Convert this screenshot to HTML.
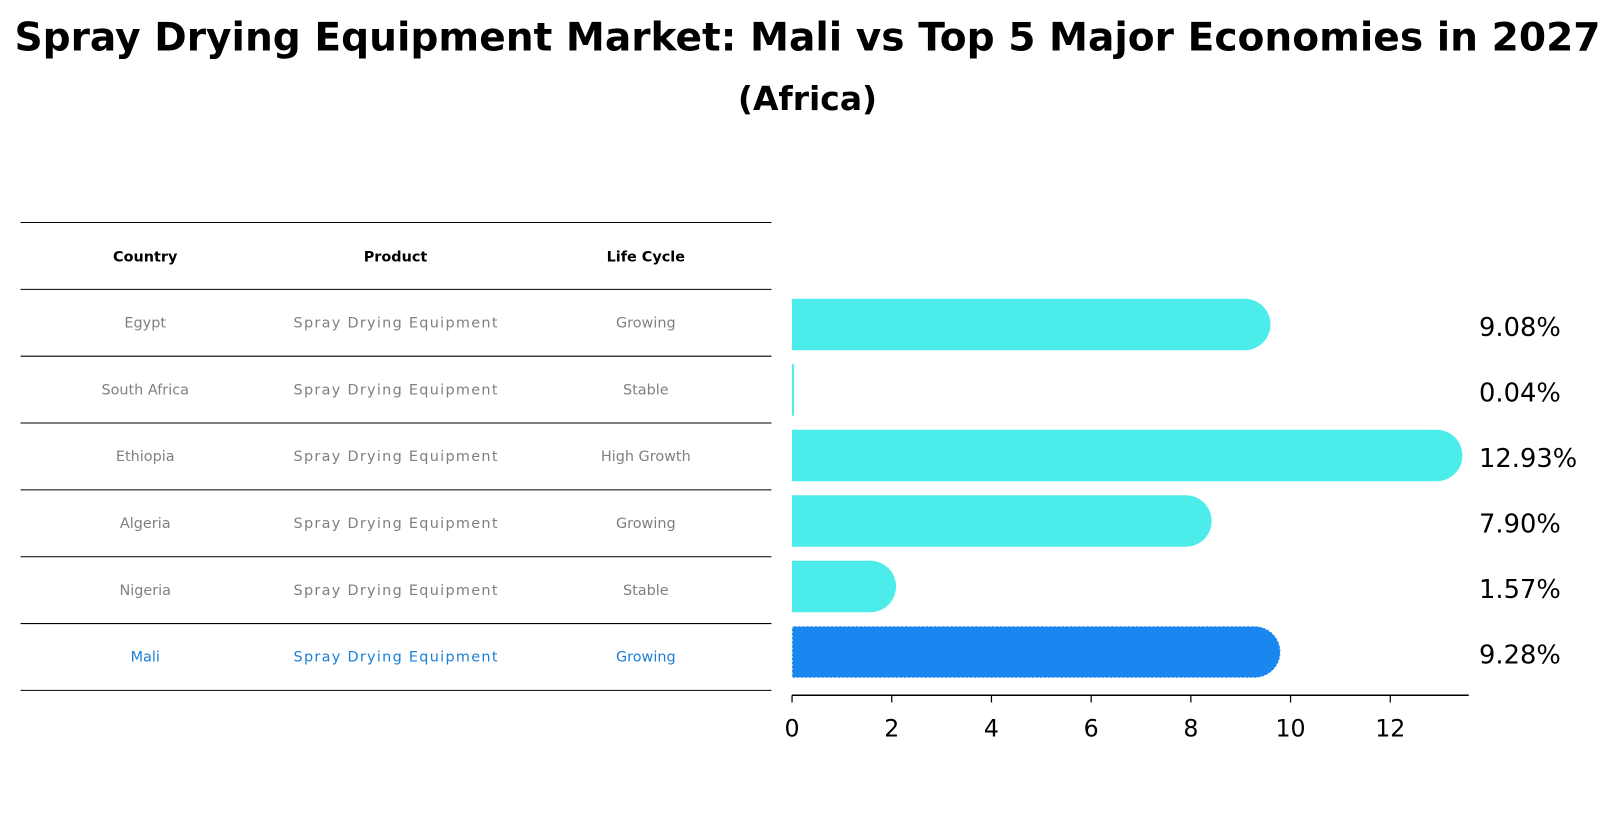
<!DOCTYPE html>
<html><head><meta charset="utf-8"><style>
body{margin:0;background:#fff;}
svg{display:block;font-family:"DejaVu Sans","Liberation Sans",sans-serif;}
</style></head><body>
<svg width="1615" height="823" viewBox="0 0 1568 799">
<text x="784" y="49" text-anchor="middle" font-size="38" font-weight="bold">Spray Drying Equipment Market: Mali vs Top 5 Major Economies in 2027</text>
<text x="784" y="107" text-anchor="middle" font-size="32" font-weight="bold">(Africa)</text>
<g id="table"></g>
<g id="bars"></g>
</svg>
<script>
const countries=["Egypt","South Africa","Ethiopia","Algeria","Nigeria","Mali"];
const products=["Spray Drying Equipment","Spray Drying Equipment","Spray Drying Equipment","Spray Drying Equipment","Spray Drying Equipment","Spray Drying Equipment"];
const lifecycles=["Growing","Stable","High Growth","Growing","Stable","Growing"];
const values=[9.08,0.04,12.93,7.90,1.57,9.28];
const ticks=[0,2,4,6,8,10,12];
const NS="http://www.w3.org/2000/svg";
function mk(tag,attrs,parent,text){const e=document.createElementNS(NS,tag);for(const k in attrs)e.setAttribute(k,attrs[k]);if(text!==undefined)e.textContent=text;parent.appendChild(e);return e;}
const tbl=document.getElementById('table');
const lineY=i=>216+i*64.9;
for(let i=0;i<=countries.length+1;i++){const l=mk('line',{x1:20,x2:749,y1:lineY(i),y2:lineY(i),stroke:'#000','stroke-width':1},tbl);

}
const cx=[141,384,627];
["Country","Product","Life Cycle"].forEach((h,j)=>{const t=mk('text',{x:cx[j],y:lineY(0)+38,'text-anchor':'middle','font-size':14,'font-weight':'bold'},tbl,h);

});
countries.forEach((c,i)=>{const col=c==="Mali"?'#1a7fd6':'#808080';[c,products[i],lifecycles[i]].forEach((v,j)=>{const t=mk('text',{x:cx[j],y:lineY(i+1)+37,'text-anchor':'middle','font-size':14,'textLength':j==1?198:undefined,fill:col},tbl,v);
if(j!=1)t.removeAttribute('textLength');

});});
const g=document.getElementById('bars');
const x0=769,sc=48.4;const X=v=>x0+v*sc;
const rowY=i=>315+i*63.6;
values.forEach((v,i)=>{const mali=countries[i]==="Mali";const w=X(v)-x0;const y=rowY(i);const r=25;
let d;if(w>5){d=`M${x0},${y-r} H${x0+w} A${r},${r} 0 0 1 ${x0+w},${y+r} H${x0} Z`;}else{d=`M${x0},${y-r} h2 v${2*r} h-2 Z`;}
const p=mk('path',{d:d,fill:mali?'#1a86f0':'#4cecea',stroke:mali?'#fff':'none','stroke-dasharray':mali?'2,2':'','stroke-width':mali?1:0},g);


const t=mk('text',{x:1436,y:y+11,'font-size':25},g,v.toFixed(2)+'%');

});
const ax=mk('line',{x1:x0,x2:1426,y1:675,y2:675,stroke:'#000','stroke-width':1.5},g);


ticks.forEach(t=>{const tm=mk('line',{x1:X(t),x2:X(t),y1:675,y2:682,stroke:'#000','stroke-width':1.2},g);


const tl=mk('text',{x:X(t),y:715,'text-anchor':'middle','font-size':23},g,String(t));

});
</script>
</body></html>
